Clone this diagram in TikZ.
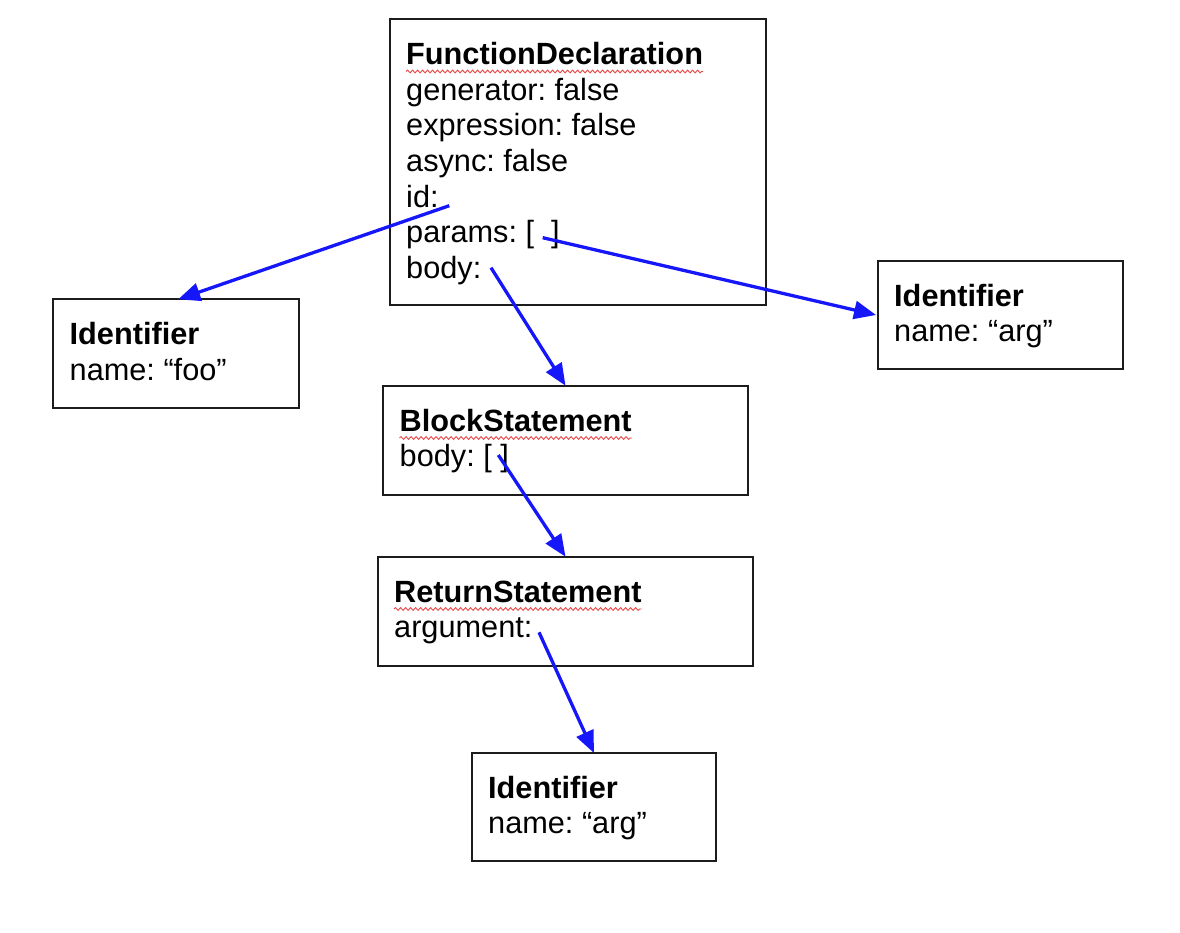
\documentclass[tikz,border=0pt]{standalone}
\usepackage{fontspec}
\setmainfont{Liberation Sans}
\usetikzlibrary{arrows.meta,decorations.pathmorphing}
\definecolor{arrowblue}{RGB}{22,22,250}
\definecolor{boxline}{RGB}{28,28,28}
\definecolor{spell}{RGB}{235,72,72}
\frenchspacing
\begin{document}
\begin{tikzpicture}[x=1pt,y=-1pt,
  box/.style={draw=boxline,line width=2pt,fill=white,rectangle,inner sep=0pt,outer sep=0pt,anchor=north west},
  ttl/.style={anchor=base west,inner sep=0pt,font=\fontsize{30.7}{35.7}\selectfont\bfseries},
  fld/.style={anchor=base west,inner sep=0pt,font=\fontsize{30.7}{35.7}\selectfont},
  link/.style={draw=arrowblue,line width=3.3pt,-{Triangle[length=22pt,width=18pt]}},
  squiggle/.style={draw=spell,line width=0.9pt,decorate,decoration={snake,segment length=5pt,amplitude=1.4pt}}]
\path[use as bounding box,fill=white] (0,0) rectangle (1180,933);

% boxes
\node[box,minimum width=376pt,minimum height=285.7pt] (fd) at (389.5,19.3) {};
\node[box,minimum width=245.7pt,minimum height=108.7pt] (foo) at (53.3,299.3) {};
\node[box,minimum width=245pt,minimum height=108pt] (argR) at (878,261) {};
\node[box,minimum width=364.4pt,minimum height=109.3pt] (blk) at (383.3,385.7) {};
\node[box,minimum width=375.6pt,minimum height=109pt] (ret) at (377.7,556.7) {};
\node[box,minimum width=244pt,minimum height=108pt] (argB) at (472,753) {};

% texts
\node[ttl] (fdT) at (406,64.5) {FunctionDeclaration};
\node[fld] (fdF) at (406,100.2) {\begin{tabular}[t]{@{}l@{}}generator: false\\expression: false\\async: false\\id:\\params: [ \ ]\\body:\end{tabular}};
\node[ttl] (fooT) at (69.5,344.5) {Identifier};
\node[fld] (fooF) at (69.5,380.2) {name: “foo”};
\node[ttl] (argRT) at (894,306.2) {Identifier};
\node[fld] (argRF) at (894,341.9) {name: “arg”};
\node[ttl] (blkT) at (399.5,431) {BlockStatement};
\node[fld] (blkF) at (399.5,466.7) {body: [ ]};
\node[ttl] (retT) at (394,602) {ReturnStatement};
\node[fld] (retF) at (394,637.7) {argument:};
\node[ttl] (argBT) at (488,798.2) {Identifier};
\node[fld] (argBF) at (488,833.9) {name: “arg”};

% spell-check underlines
\draw[squiggle] ([yshift=-7pt]fdT.base west) -- ([yshift=-7pt]fdT.base east);
\draw[squiggle] ([yshift=-7pt]blkT.base west) -- ([yshift=-7pt]blkT.base east);
\draw[squiggle] ([yshift=-7pt]retT.base west) -- ([yshift=-7pt]retT.base east);

% connector start points
\coordinate (idS) at (449.3,205.7);
\coordinate (parS) at (542.7,237.7);
\coordinate (bodyS) at (491,267.7);
\coordinate (blkS) at (498.3,455);
\coordinate (argS) at (539,632.3);

% connectors
\draw[link] (idS) -- ([xshift=2pt]foo.north);
\draw[link] (parS) -- ([xshift=-2pt]argR.west);
\draw[link] (bodyS) -- (blk.north);
\draw[link] (blkS) -- (ret.north);
\draw[link] (argS) -- (argB.north);
\end{tikzpicture}
\end{document}
